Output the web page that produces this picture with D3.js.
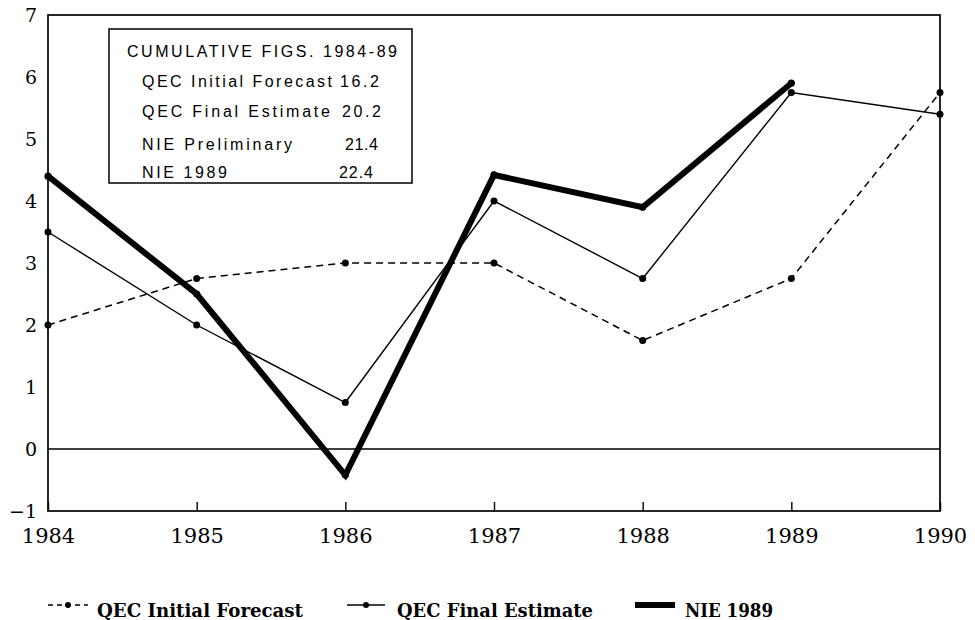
<!DOCTYPE html>
<html><head><meta charset="utf-8">
<script src="https://cdn.jsdelivr.net/npm/d3@7"></script>
<style>body{margin:0;background:#fff}</style>
</head><body>
<svg id="c" width="975" height="620"></svg>
<script>
const years = [1984, 1985, 1986, 1987, 1988, 1989, 1990];
const qecInitial = [2.0, 2.75, 3.0, 3.0, 1.75, 2.75, 5.75];
const qecFinal = [3.5, 2.0, 0.75, 4.0, 2.75, 5.75, 5.4];
const nie1989 = [4.4, 2.5, -0.42, 4.42, 3.9, 5.9];
const yTicks = [-1, 0, 1, 2, 3, 4, 5, 6, 7];
const boxTitle = "CUMULATIVE FIGS. 1984-89";
const boxLabels = ["QEC Initial Forecast", "QEC Final Estimate", "NIE Preliminary", "NIE 1989"];
const boxValues = ["16.2", "20.2", "21.4", "22.4"];
const legendLabels = ["QEC Initial Forecast", "QEC Final Estimate", "NIE 1989"];

const svg = d3.select("#c");
const L = 48, R = 940, T = 15, B = 511;
const x = d3.scaleLinear().domain([1984, 1990]).range([L, R]);
const y = d3.scaleLinear().domain([-1, 7]).range([B, T]);
const serif = "'DejaVu Serif', 'Liberation Serif', serif";
const sans = "'Liberation Sans', Arial, sans-serif";

// frame
svg.append("rect").attr("x", L).attr("y", T).attr("width", R - L).attr("height", B - T)
  .attr("fill", "none").attr("stroke", "#000").attr("stroke-width", 1.7);
// zero line
svg.append("line").attr("x1", L).attr("x2", R).attr("y1", y(0)).attr("y2", y(0))
  .attr("stroke", "#000").attr("stroke-width", 1.7);

// x axis
const xAxis = d3.axisBottom(x).tickValues(years).tickFormat(d3.format("d")).tickSizeInner(-9).tickSizeOuter(0);
const gx = svg.append("g").attr("transform", `translate(0,${B})`).call(xAxis);
gx.select(".domain").remove();
gx.selectAll("line").attr("stroke-width", 1.4);
gx.selectAll("text").attr("y", 32).attr("dy", 0)
  .attr("font-family", serif).attr("font-size", 21).attr("fill", "#000");

// y axis
const yAxis = d3.axisLeft(y).tickValues(yTicks).tickFormat(d => d < 0 ? "\u2212" + Math.abs(d) : d).tickSize(0).tickPadding(11);
const gy = svg.append("g").attr("transform", `translate(${L},0)`).call(yAxis);
gy.select(".domain").remove();
gy.selectAll("text").attr("font-family", serif).attr("font-size", 19).attr("fill", "#000");

// series
const line = d3.line().x((d, i) => x(years[i])).y(d => y(d));
svg.append("path").datum(qecInitial).attr("d", line).attr("fill", "none")
  .attr("stroke", "#000").attr("stroke-width", 1.5).attr("stroke-dasharray", "7,5");
svg.append("path").datum(qecFinal).attr("d", line).attr("fill", "none")
  .attr("stroke", "#000").attr("stroke-width", 1.4);
svg.append("path").datum(nie1989).attr("d", line).attr("fill", "none")
  .attr("stroke", "#000").attr("stroke-width", 6).attr("stroke-linejoin", "miter");
[qecInitial, qecFinal].forEach(s => {
  svg.append("g").selectAll("circle").data(s).join("circle")
    .attr("cx", (d, i) => x(years[i])).attr("cy", d => y(d)).attr("r", 3.5).attr("fill", "#000");
});
svg.append("g").selectAll("circle").data(nie1989).join("circle")
  .attr("cx", (d, i) => x(years[i])).attr("cy", d => y(d)).attr("r", 3.6).attr("fill", "#000");

// info box
svg.append("rect").attr("x", 109).attr("y", 29).attr("width", 303).attr("height", 154)
  .attr("fill", "#fff").attr("stroke", "#000").attr("stroke-width", 1.5);
function boxText(t, x0, x1, yb) {
  svg.append("text").attr("x", x0).attr("y", yb).text(t)
    .attr("textLength", x1 - x0).attr("lengthAdjust", "spacing")
    .attr("font-family", sans).attr("font-size", 16).attr("fill", "#000");
}
boxText(boxTitle, 127, 397, 57);
const rowY = [87, 117, 150, 178];
const labelR = [332, 330, 292, 227];
const valL = [340, 342, 345, 339];
const valR = [379, 381, 378, 373];
boxLabels.forEach((t, i) => {
  boxText(t, 142, labelR[i], rowY[i]);
  boxText(boxValues[i], valL[i], valR[i], rowY[i]);
});

// legend
const ly = 605;
const lg = svg.append("g");
const items = [
  {x0: 48, x1: 88, tx: 97, tw: 206, dash: "5,4", w: 1.5, dot: true},
  {x0: 347, x1: 385, tx: 397, tw: 196, dash: null, w: 1.5, dot: true},
  {x0: 635, x1: 675, tx: 685, tw: 88, dash: null, w: 6, dot: false}
];
items.forEach((it, i) => {
  lg.append("line").attr("x1", it.x0).attr("x2", it.x1).attr("y1", ly).attr("y2", ly)
    .attr("stroke", "#000").attr("stroke-width", it.w).attr("stroke-dasharray", it.dash);
  if (it.dot) lg.append("circle").attr("cx", (it.x0 + it.x1) / 2).attr("cy", ly).attr("r", 3).attr("fill", "#000");
  lg.append("text").attr("x", it.tx).attr("y", 617).text(legendLabels[i])
    .attr("textLength", it.tw).attr("lengthAdjust", "spacingAndGlyphs")
    .attr("font-family", serif).attr("font-weight", "bold").attr("font-size", 18).attr("fill", "#000");
});
</script>
</body></html>
